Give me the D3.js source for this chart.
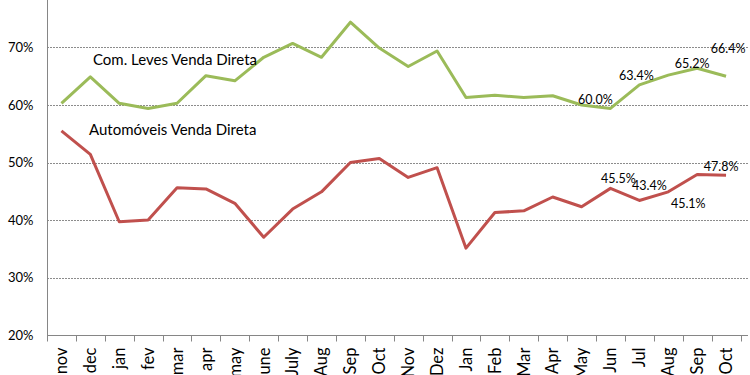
<!DOCTYPE html>
<html>
<head>
<meta charset="utf-8">
<script src="https://cdn.jsdelivr.net/npm/d3@7"></script>
<style>
  body { margin: 0; background: #fff; }
  text { font-family: Lato, "Open Sans", sans-serif; fill: #000; }
</style>
</head>
<body>
<script>
'use strict';

// month labels along the x axis (two years)
const categories = ["nov", "dec", "jan", "fev", "mar", "apr", "may", "june", "July", "Aug", "Sep", "Oct",
  "Nov", "Dez", "Jan", "Feb", "Mar", "Apr", "May", "Jun", "Jul", "Aug", "Sep", "Oct"];

// Com. Leves Venda Direta (%)
const comLeves = [60.3, 64.9, 60.3, 59.4, 60.3, 65.1, 64.2, 68.3, 70.7, 68.3, 74.4, 69.9,
  66.7, 69.4, 61.3, 61.7, 61.3, 61.6, 60.0, 59.4, 63.5, 65.2, 66.4, 65.0];

// Automóveis Venda Direta (%)
const automoveis = [55.5, 51.4, 39.7, 40.0, 45.6, 45.4, 42.9, 37.0, 41.9, 44.9, 50.0, 50.7,
  47.4, 49.1, 35.1, 41.3, 41.6, 44.0, 42.3, 45.5, 43.4, 44.9, 47.9, 47.8];

const yTicks = [20, 30, 40, 50, 60, 70];

// data labels as they appear on the chart: month index + text
const comLevesLabels = [[19, "60.0%"], [20, "63.4%"], [22, "65.2%"], [23, "66.4%"]];
const automoveisLabels = [[19, "45.5%"], [20, "43.4%"], [21, "45.1%"], [23, "47.8%"]];

const width = 750, height = 375;
const svg = d3.select('body').append('svg')
  .attr('width', width)
  .attr('height', height);

const x = d3.scaleBand()
  .domain(d3.range(categories.length))
  .range([47, 740.5]);

const y = d3.scaleLinear()
  .domain([20, 80])
  .range([335, -10]);

const cx = i => x(i) + x.bandwidth() / 2;

// gridlines
svg.append('g')
  .selectAll('line')
  .data(yTicks.filter(d => d > 20))
  .enter()
  .append('line')
  .attr('x1', 47)
  .attr('x2', 748)
  .attr('y1', d => Math.round(y(d)) + 0.5)
  .attr('y2', d => Math.round(y(d)) + 0.5)
  .attr('stroke', '#8c8c8c')
  .attr('stroke-width', 1)
  .attr('stroke-dasharray', '2,1');

// y axis
const yAxis = d3.axisLeft(y)
  .tickValues(yTicks)
  .tickSize(0)
  .tickPadding(14)
  .tickFormat(d => d + '%');
const gy = svg.append('g')
  .attr('transform', 'translate(47.5,0)')
  .call(yAxis);
gy.select('.domain').attr('stroke', '#868686').attr('d', 'M0,0V335');
gy.selectAll('text')
  .style('font-size', '13px')
  .attr('font-family', null);

// x axis
const xAxis = d3.axisBottom(x)
  .tickSize(0)
  .tickFormat(i => categories[i]);
const gx = svg.append('g')
  .attr('transform', 'translate(0,335.5)')
  .call(xAxis);
gx.select('.domain').attr('stroke', '#868686').attr('d', 'M47,0H748');
gx.selectAll('.tick text')
  .style('font-size', '16.5px')
  .attr('font-family', null)
  .attr('text-anchor', 'end')
  .attr('transform', 'rotate(-90)')
  .attr('x', -12)
  .attr('y', 0)
  .attr('dy', '0.35em');
// tick marks at category boundaries
gx.selectAll('.bound')
  .data(d3.range(categories.length + 1))
  .enter()
  .append('line')
  .attr('class', 'bound')
  .attr('x1', i => Math.round(47 + i * x.step()) + 0.5)
  .attr('x2', i => Math.round(47 + i * x.step()) + 0.5)
  .attr('y1', 0)
  .attr('y2', 6)
  .attr('stroke', '#868686');

// lines
const line = d3.line()
  .x((d, i) => cx(i))
  .y(d => y(d));

svg.append('path')
  .datum(comLeves)
  .attr('fill', 'none')
  .attr('stroke', '#9BBB59')
  .attr('stroke-width', 3)
  .attr('stroke-linejoin', 'round')
  .attr('d', line);

svg.append('path')
  .datum(automoveis)
  .attr('fill', 'none')
  .attr('stroke', '#C0504D')
  .attr('stroke-width', 3)
  .attr('stroke-linejoin', 'round')
  .attr('d', line);

// series names
svg.append('text')
  .attr('x', 93)
  .attr('y', 65)
  .style('font-size', '15px')
  .text('Com. Leves Venda Direta');

svg.append('text')
  .attr('x', 89)
  .attr('y', 135)
  .style('font-size', '15px')
  .text('Automóveis Venda Direta');

// data labels (offsets from the point, as placed on the chart)
const greenOffsets = [[-15, -4], [-3, -5], [-5, 0], [2, -23]];
const redOffsets = [[8, -5], [10, -10], [20, 16], [-5, -4]];

function drawLabels(labels, values, offsets) {
  svg.append('g')
    .selectAll('text')
    .data(labels)
    .enter()
    .append('text')
    .attr('x', (d, k) => cx(d[0]) + offsets[k][0])
    .attr('y', (d, k) => y(values[d[0]]) + offsets[k][1])
    .attr('text-anchor', 'middle')
    .style('font-size', '12.5px')
    .text(d => d[1]);
}
drawLabels(comLevesLabels, comLeves, greenOffsets);
drawLabels(automoveisLabels, automoveis, redOffsets);
</script>
</body>
</html>
